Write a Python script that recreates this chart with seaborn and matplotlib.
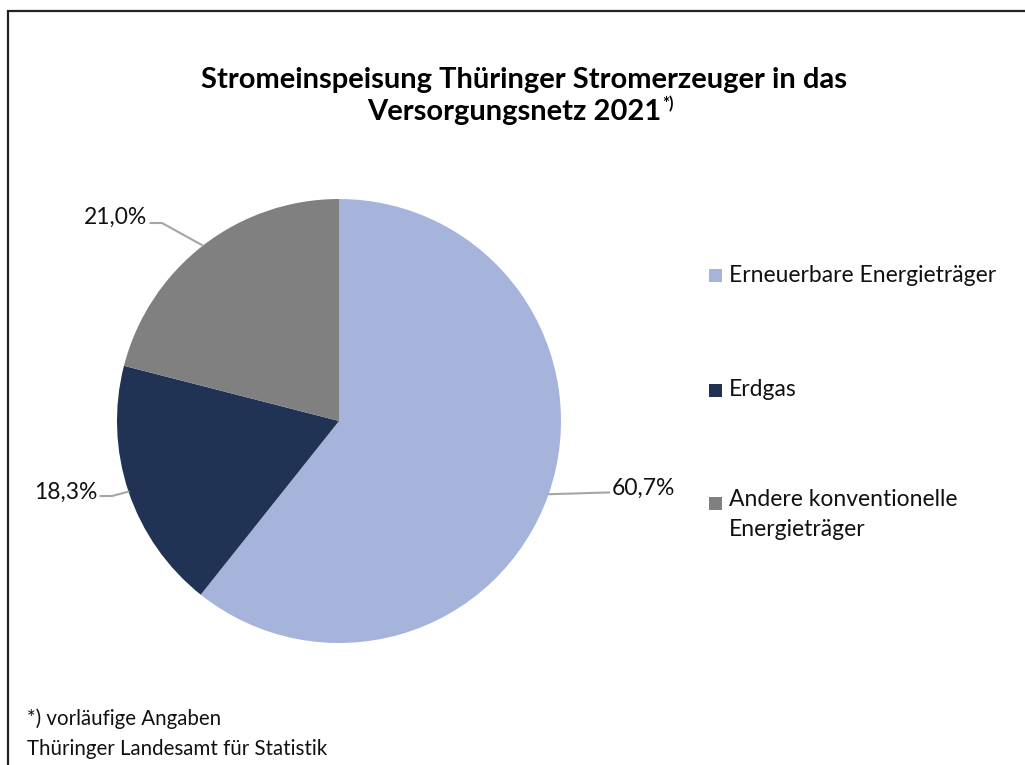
import numpy as np
import matplotlib
matplotlib.use('Agg')
import matplotlib.pyplot as plt
from matplotlib.patches import Rectangle
import seaborn as sns

# data
categories = ['Erneuerbare Energieträger', 'Erdgas', 'Andere konventionelle\nEnergieträger']
shares = [60.7, 18.3, 21.0]
colors = ['#A6B4DC', '#203354', '#808080']
title_line1 = 'Stromeinspeisung Thüringer Stromerzeuger in das'
title_line2 = 'Versorgungsnetz 2021'
footnotes = ['*) vorläufige Angaben', 'Thüringer Landesamt für Statistik']

sns.set_theme(style='white')
plt.rcParams['font.family'] = ['Lato', 'DejaVu Sans']

W, H = 1025, 765
fig = plt.figure(figsize=(W / 100, H / 100), dpi=100)
fig.patch.set_facecolor('white')

# frame (right/bottom edges run off the picture)
fig.patches.append(Rectangle((8 / W, -0.05), 1.1, 1 - 11 / H + 0.05, transform=fig.transFigure,
                             fill=False, edgecolor='#222222', linewidth=1.6))

# pie axes: centre (339, 421) px, radius 222 px
cx, cy, r = 339, 421, 222
ax = fig.add_axes([(cx - r) / W, (H - cy - r) / H, 2 * r / W, 2 * r / H])
wedges, _ = ax.pie(shares, colors=sns.color_palette(colors), startangle=90, counterclock=False,
                   radius=1, wedgeprops=dict(linewidth=0))
ax.set_xlim(-1, 1)
ax.set_ylim(-1, 1)
ax.axis('off')

# data labels with leader lines (label anchor in px, elbow in px)
label_cfg = [
    dict(text=(612, 488), ha='left', elbow=None),
    dict(text=(97, 492), ha='right', elbow=(112, 496)),
    dict(text=(147, 217), ha='right', elbow=(162, 223)),
]
def px2d(x, y):
    return (x - cx) / r, (cy - y) / r

for w, val, cfg in zip(wedges, shares, label_cfg):
    mid = np.deg2rad((w.theta1 + w.theta2) / 2)
    ex, ey = np.cos(mid), np.sin(mid)
    tx, ty = px2d(*cfg['text'])
    pts = [(ex, ey)]
    if cfg['elbow'] is not None:
        pts.append(px2d(*cfg['elbow']))
        pts.append((tx + (0.015 if cfg['ha'] == 'right' else -0.015), pts[-1][1]))
    else:
        pts.append((tx - 0.012, ty - 0.02))
    xs, ys = zip(*pts)
    ax.plot(xs, ys, color='#A6A6A6', linewidth=1.5, clip_on=False)
    ax.text(tx, ty, f'{val:.1f}%'.replace('.', ','), ha=cfg['ha'], va='center',
            fontsize=16.5, color='#111111', clip_on=False)

# title
t1 = fig.text(524 / W, 1 - 80 / H, title_line1, ha='center', va='center',
              fontsize=21, fontweight='bold', color='black')
t2 = fig.text(514 / W, 1 - 112 / H, title_line2, ha='center', va='center',
              fontsize=21, fontweight='bold', color='black')
fig.canvas.draw()
bb = t2.get_window_extent()
fig.text((bb.x1 + 1) / W, 1 - 104 / H, '*)', ha='left', va='center',
         fontsize=12, fontweight='bold', color='black')

# legend drawn by hand: square aligned with first text line
leg_y = [275, 390, 503]
for lab, col, y in zip(categories, colors, leg_y):
    fig.patches.append(Rectangle((709 / W, 1 - (y + 7) / H), 13 / W, 13 / H,
                                 transform=fig.transFigure, facecolor=col, edgecolor='none'))
    fig.text(729 / W, 1 - (y - 14) / H if '\n' in lab else 1 - y / H, lab, ha='left',
             va='top' if '\n' in lab else 'center',
             fontsize=16.5, color='#111111', linespacing=1.55)

# footnotes
for txt, y in zip(footnotes, [719, 749]):
    fig.text(27 / W, 1 - y / H, txt, ha='left', va='center', fontsize=14.8, color='#111111')

fig.savefig('out.png', dpi=100)
